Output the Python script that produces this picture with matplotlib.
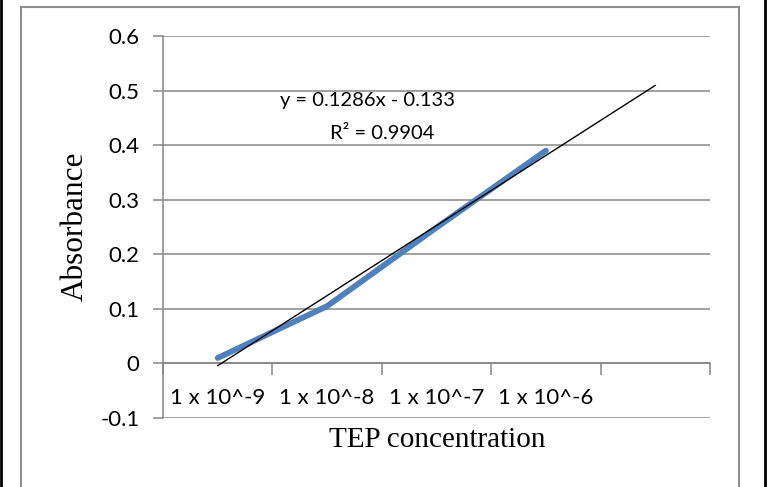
import numpy as np
import matplotlib
matplotlib.use('Agg')
import matplotlib.pyplot as plt
from matplotlib.lines import Line2D

# data
categories = ['1 x 10^-9', '1 x 10^-8', '1 x 10^-7', '1 x 10^-6', '']
absorbance = [0.01, 0.105, 0.249, 0.39]
eq_text = 'y = 0.1286x - 0.133'
r2_text = 'R² = 0.9904'

grid_c = '#868686'
blue = '#4F81BD'
sans = ['Lato', 'DejaVu Sans']
serif = ['Liberation Serif', 'DejaVu Serif']
fs = 16

fig = plt.figure(figsize=(7.67, 4.87), dpi=100)
ax = fig.add_axes([163/767, 1-418/487, (710-163)/767, (418-36)/487])

x = np.arange(1, len(absorbance)+1)
ax.plot(x, absorbance, color=blue, lw=4.2, solid_capstyle='round', zorder=3)

# linear trendline, forecast forward one period
m, b = np.polyfit(x, absorbance, 1)
xt = np.array([1, len(categories)])
ax.plot(xt, m*xt + b, color='black', lw=1.0, zorder=4)

ax.text(2.37, 0.481, eq_text, ha='center', va='center', fontsize=14.5, family=sans)
ax.text(2.5, 0.422, r2_text, ha='center', va='center', fontsize=14.5, family=sans)

ax.set_xlim(0.5, len(categories)+0.5)
ax.set_ylim(-0.1, 0.6)
ax.set_yticks(np.arange(-0.1, 0.61, 0.1))
ax.set_yticklabels(['-0.1', '0', '0.1', '0.2', '0.3', '0.4', '0.5', '0.6'], family=sans, fontsize=fs)
ax.yaxis.grid(True, color=grid_c, lw=1.1)
ax.set_axisbelow(True)
ax.tick_params(axis='y', length=7, width=1.1, color=grid_c, pad=10)

# category axis at y=0
ax.spines['bottom'].set_position(('data', 0))
ax.spines['bottom'].set_color(grid_c)
ax.spines['bottom'].set_linewidth(1.1)
ax.spines['left'].set_color(grid_c)
ax.spines['left'].set_linewidth(1.1)
ax.spines['top'].set_visible(False)
ax.spines['right'].set_visible(False)
ax.set_xticks(np.arange(0.5, len(categories)+1, 1.0))
ax.set_xticklabels([])
ax.set_xticks(np.arange(1, len(categories)+1), minor=True)
ax.set_xticklabels(categories, minor=True, family=sans, fontsize=fs)
ax.tick_params(axis='x', which='major', direction='out', length=8.5, width=1.1, color=grid_c)
ax.tick_params(axis='x', which='minor', length=0, pad=18)

fig.text(75/767, 1-226/487, 'Absorbance', family=serif, fontsize=22.5,
         ha='center', va='center', rotation=90)
fig.text(437/767, 1-440/487, 'TEP concentration', family=serif, fontsize=21,
         ha='center', va='center')

# chart frame and page borders
fig.add_artist(Line2D([21/767, 21/767, 739/767, 739/767], [0, 1-6.5/487, 1-6.5/487, 0],
                      color='#8c8c8c', lw=1.5))
fig.add_artist(Line2D([1/767, 1/767], [0, 1], color='black', lw=2))
fig.add_artist(Line2D([765/767, 765/767], [0, 1], color='black', lw=2))

fig.savefig('out.png', dpi=100)
